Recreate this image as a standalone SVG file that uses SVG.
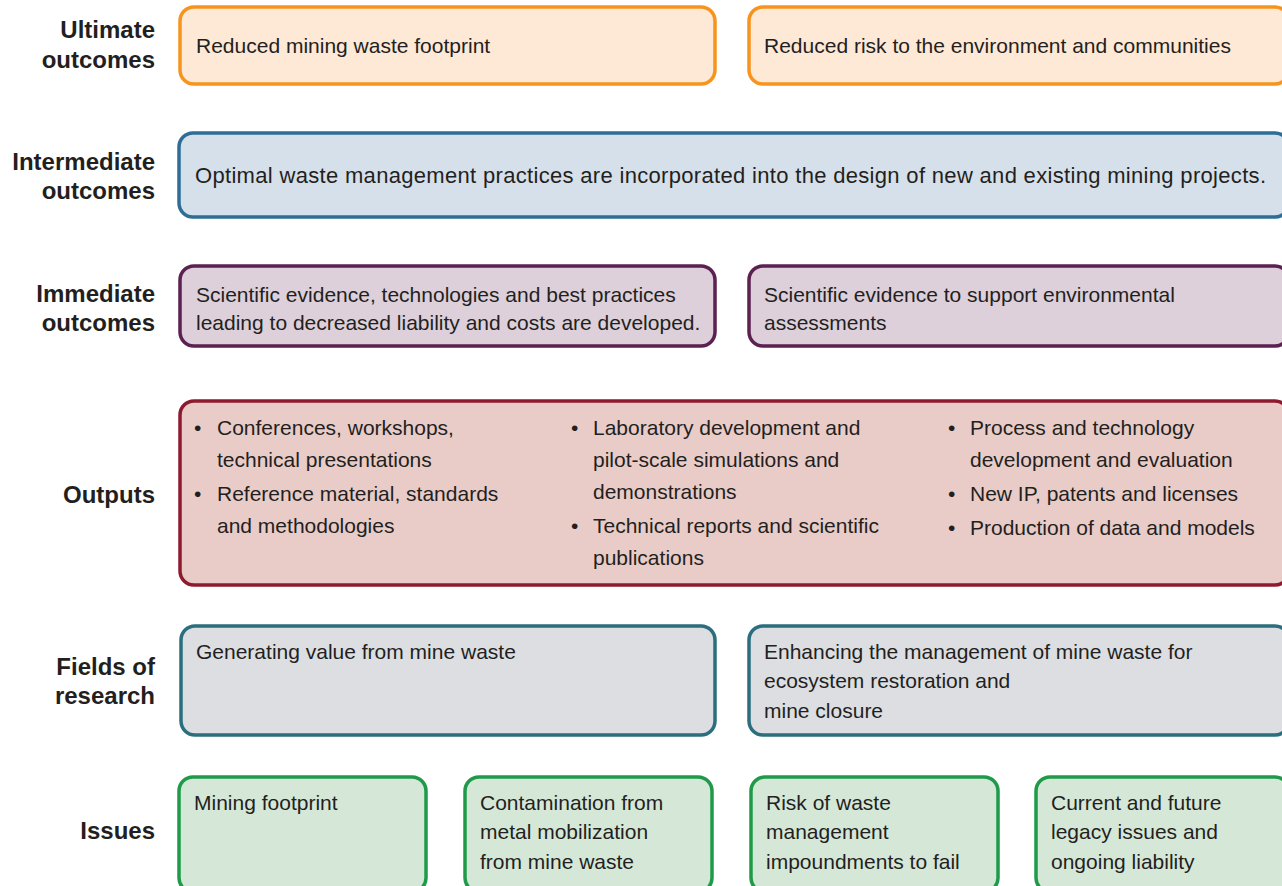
<svg xmlns="http://www.w3.org/2000/svg" width="1282" height="886" viewBox="0 0 1282 886">
<style>
.lbl{font-family:"Liberation Sans",Arial,sans-serif;font-weight:bold;font-size:24px;fill:#231F20;text-anchor:end}
.t{font-family:"Liberation Sans",Arial,sans-serif;font-size:21px;fill:#231F20}
.box{stroke-width:3.5}
.ult{fill:#FEE8D6;stroke:#F7941D}
.int{fill:#D6E0EA;stroke:#2E6E96}
.imm{fill:#DDD0DA;stroke:#5B2150}
.out{fill:#E9CCC8;stroke:#8E1A2F}
.fld{fill:#DCDEE2;stroke:#2B6E7E}
.iss{fill:#D5E8D8;stroke:#1E9A48}
</style>
<rect width="1282" height="886" fill="#FFFFFF"/>
<g id="labels">
<text class="lbl" x="155" y="38">Ultimate</text>
<text class="lbl" x="155" y="68">outcomes</text>
<text class="lbl" x="155" y="170">Intermediate</text>
<text class="lbl" x="155" y="199">outcomes</text>
<text class="lbl" x="155" y="302">Immediate</text>
<text class="lbl" x="155" y="331">outcomes</text>
<text class="lbl" x="155" y="503">Outputs</text>
<text class="lbl" x="155" y="675">Fields of</text>
<text class="lbl" x="155" y="704">research</text>
<text class="lbl" x="155" y="839">Issues</text>
</g>
<g id="ult1"><rect class="box ult" x="180" y="7" width="535" height="77" rx="14"/><text class="t" x="196" y="53">Reduced mining waste footprint</text></g>
<g id="ult2"><rect class="box ult" x="749" y="7" width="540" height="77" rx="14"/><text class="t" x="764" y="53">Reduced risk to the environment and communities</text></g>
<g id="int1"><rect class="box int" x="179" y="133" width="1110" height="84" rx="14"/><text class="t" x="195" y="183" style="font-size:22px" textLength="1071" lengthAdjust="spacing">Optimal waste management practices are incorporated into the design of new and existing mining projects.</text></g>
<g id="imm1"><rect class="box imm" x="180" y="266" width="535" height="80" rx="14"/><text class="t" x="196" y="302">Scientific evidence, technologies and best practices</text><text class="t" x="196" y="330">leading to decreased liability and costs are developed.</text></g>
<g id="imm2"><rect class="box imm" x="749" y="266" width="540" height="80" rx="14"/><text class="t" x="764" y="302">Scientific evidence to support environmental</text><text class="t" x="764" y="330">assessments</text></g>
<g id="out1"><rect class="box out" x="180" y="401" width="1109" height="184" rx="14"/>
<text class="t" x="194" y="435">•</text><text class="t" x="217" y="435">Conferences, workshops,</text>
<text class="t" x="217" y="467">technical presentations</text>
<text class="t" x="194" y="501">•</text><text class="t" x="217" y="501">Reference material, standards</text>
<text class="t" x="217" y="533">and methodologies</text>
<text class="t" x="571" y="435">•</text><text class="t" x="593" y="435">Laboratory development and</text>
<text class="t" x="593" y="467">pilot-scale simulations and</text>
<text class="t" x="593" y="499">demonstrations</text>
<text class="t" x="571" y="533">•</text><text class="t" x="593" y="533">Technical reports and scientific</text>
<text class="t" x="593" y="565">publications</text>
<text class="t" x="948" y="435">•</text><text class="t" x="970" y="435">Process and technology</text>
<text class="t" x="970" y="467">development and evaluation</text>
<text class="t" x="948" y="501">•</text><text class="t" x="970" y="501">New IP, patents and licenses</text>
<text class="t" x="948" y="535">•</text><text class="t" x="970" y="535">Production of data and models</text>
</g>
<g id="fld1"><rect class="box fld" x="181" y="626" width="534" height="109" rx="14"/><text class="t" x="196" y="659">Generating value from mine waste</text></g>
<g id="fld2"><rect class="box fld" x="749" y="626" width="540" height="109" rx="14"/><text class="t" x="764" y="659">Enhancing the management of mine waste for</text><text class="t" x="764" y="688">ecosystem restoration and</text><text class="t" x="764" y="718">mine closure</text></g>
<g id="iss1"><rect class="box iss" x="179" y="777" width="247" height="115" rx="14"/><text class="t" x="194" y="810">Mining footprint</text></g>
<g id="iss2"><rect class="box iss" x="465" y="777" width="247" height="115" rx="14"/><text class="t" x="480" y="810">Contamination from</text><text class="t" x="480" y="839">metal mobilization</text><text class="t" x="480" y="869">from mine waste</text></g>
<g id="iss3"><rect class="box iss" x="751" y="777" width="247" height="115" rx="14"/><text class="t" x="766" y="810">Risk of waste</text><text class="t" x="766" y="839">management</text><text class="t" x="766" y="869">impoundments to fail</text></g>
<g id="iss4"><rect class="box iss" x="1036" y="777" width="253" height="115" rx="14"/><text class="t" x="1051" y="810">Current and future</text><text class="t" x="1051" y="839">legacy issues and</text><text class="t" x="1051" y="869">ongoing liability</text></g>
<g id="connectors"/>
</svg>
